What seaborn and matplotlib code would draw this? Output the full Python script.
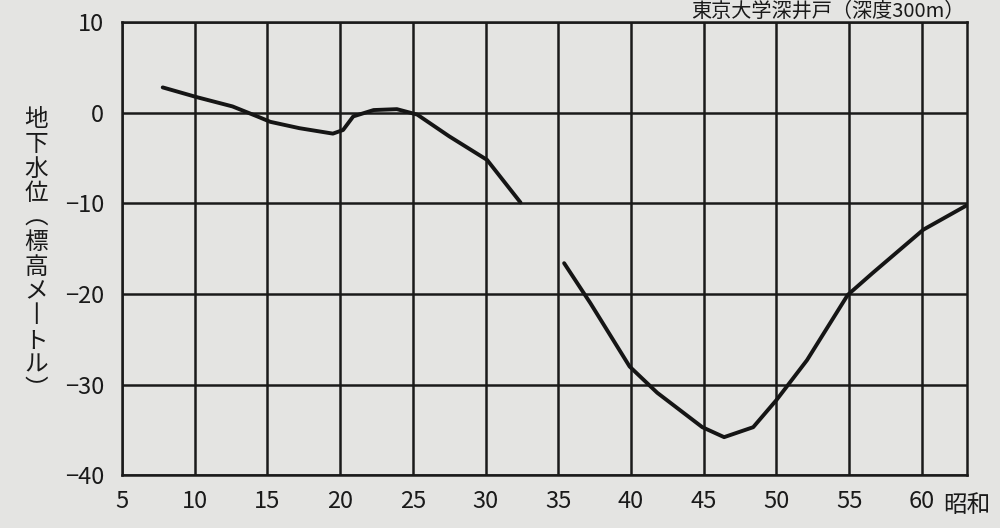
import matplotlib
matplotlib.use("Agg")
import matplotlib.pyplot as plt
import seaborn as sns
import pandas as pd

# --- data (Showa year vs groundwater level, m above sea level)
years_a = [7.8, 10.2, 12.6, 14.3, 15.2, 17.2, 19.5, 20.2, 20.9, 22.3, 23.9, 25.3, 27.5, 30.1, 32.4]
level_a = [2.8, 1.7, 0.7, -0.4, -1.0, -1.7, -2.3, -1.9, -0.4, 0.3, 0.4, -0.2, -2.6, -5.2, -9.9]
years_b = [35.4, 37.2, 39.9, 41.8, 44.9, 46.4, 48.4, 50.0, 52.1, 54.9, 56.6, 60.1, 63.1]
level_b = [-16.6, -21.0, -28.0, -30.9, -34.7, -35.8, -34.7, -31.7, -27.3, -20.1, -17.7, -12.9, -10.2]
x_ticks = [5, 10, 15, 20, 25, 30, 35, 40, 45, 50, 55, 60]
y_ticks = [10, 0, -10, -20, -30, -40]
title = "東京大学深井戸（深度300m）"
ylabel_chars = ["地", "下", "水", "位", "︵", "標", "高", "メ", "丨", "ト", "ル", "︶"]
x_unit = "昭和"

sns.set_theme(style="white")
plt.rcParams['font.family'] = ['Noto Sans CJK JP', 'DejaVu Sans']

bg = "#e4e4e2"
fig = plt.figure(figsize=(10, 5.28), dpi=100, facecolor=bg)
ax = fig.add_axes([0.122, 0.100, 0.845, 0.858])
ax.set_facecolor(bg)

df = pd.concat([
    pd.DataFrame({"year": years_a, "level": level_a, "seg": "a"}),
    pd.DataFrame({"year": years_b, "level": level_b, "seg": "b"}),
])
sns.lineplot(data=df, x="year", y="level", units="seg", estimator=None, sort=False,
             color="#151515", linewidth=2.8, ax=ax)

ax.set_xlim(5, 63.1)
ax.set_ylim(-40, 10)
ax.set_xticks(x_ticks)
ax.set_yticks(y_ticks)
ax.set_xticklabels([str(v) for v in x_ticks])
ax.set_yticklabels([str(v).replace("-", "−") for v in y_ticks])
ax.grid(True, color="#1a1a1a", linewidth=1.8)
for s in ax.spines.values():
    s.set_visible(True)
    s.set_color("#1a1a1a")
    s.set_linewidth(1.8)
ax.tick_params(axis="both", direction="out", length=9, width=1.6, color="#1a1a1a",
               labelsize=17, labelcolor="#1a1a1a", pad=4)
ax.tick_params(axis="x", length=5, pad=6)
ax.set_xlabel("")
ax.set_ylabel("")

fig.text(0.965, 0.999, title, ha="right", va="top", fontsize=14.5, color="#1a1a1a")
fig.text(0.943, 1 - 505 / 528, x_unit, ha="left", va="center", fontsize=17, color="#1a1a1a")

y0 = 1 - 120 / 528
step = 24.5 / 528
for i, ch in enumerate(ylabel_chars):
    fig.text(0.036, y0 - i * step, ch, ha="center", va="center", fontsize=17, color="#1a1a1a")

fig.savefig("out.png", dpi=100, facecolor=bg)
